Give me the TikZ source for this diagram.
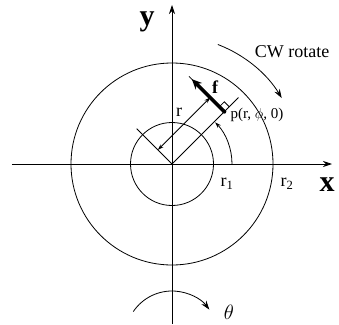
\documentclass[tikz,border=0pt]{standalone}
\usepackage{fontspec}
\setmainfont{Liberation Serif}
\usetikzlibrary{arrows.meta, calc}

\begin{document}
\begin{tikzpicture}[
    x=1pt, y=1pt,
    thinline/.style = {line width=0.8pt},
    axislabel/.style = {font=\fontsize{30}{30}\selectfont\bfseries},
    textlabel/.style = {font=\fontsize{18}{18}\selectfont},
    pointlabel/.style = {font=\fontsize{15}{15}\selectfont, anchor=west},
    >={Stealth[length=9pt, width=6pt]}]

    \useasboundingbox (-172,-160) rectangle (167,164);
    \coordinate (O) at (0,0);
    \coordinate (P) at (45:74);
    \coordinate (Xs) at (-160,0);
    \coordinate (Xe) at (160,0);
    \coordinate (Ys) at (0,-160);
    \coordinate (Ye) at (0,159);

    % axes and circles
    \draw[thinline, ->] (Xs) -- (Xe);
    \draw[thinline, ->] (Ys) -- (Ye);
    \draw[thinline] (O) circle (41.5);
    \draw[thinline] (O) circle (101);

    % radius, extension lines and dimension
    \coordinate (R) at (45:94);
    \coordinate (E1) at (135:50);
    \coordinate (E2) at ($(P)+(135:50)$);
    \coordinate (D1) at (135:20);
    \coordinate (D2) at ($(P)+(135:20)$);
    \coordinate (F) at ($(P)+(135:46)$);
    \draw[thinline] (O) -- (R);
    \draw[thinline] (O) -- (E1);
    \draw[thinline] (P) -- (E2);
    \draw[thinline, <->, >={Stealth[length=6pt, width=4pt]}] (D1) -- (D2);
    \draw[line width=3.5pt, ->, >={Stealth[length=10pt, width=9pt]}] (P) -- (F);
    \draw[thinline] ($(P)+(135:7)$) -- ++(45:7) -- ++(-45:7);
    \fill (P) circle (2);

    % angle arcs
    \draw[thinline, ->, >={Stealth[length=6pt, width=4pt]}] (0:60) arc[start angle=0, end angle=44, radius=60];
    \draw[thinline, ->] (69:128) arc[start angle=69, end angle=31, radius=128];
    \coordinate (C) at (0,-173.7);
    \draw[thinline, ->] ($(C)+(146:46.7)$) arc[start angle=146, end angle=37, radius=46.7];

    % labels
    \node[axislabel] (ylab) at (-25,142) {y};
    \node[axislabel] (xlab) at (155,-21) {x};
    \node[textlabel] (rlab) at (7,52) {r};
    \node[textlabel, font=\fontsize{18}{18}\selectfont\bfseries] (flab) at (43,77) {f};
    \node[pointlabel] (plab) at (55,49) {p(r, $\phi$, 0)};
    \node[textlabel] (r1lab) at (55,-20) {r\textsubscript{1}};
    \node[textlabel] (r2lab) at (115,-20) {r\textsubscript{2}};
    \node[textlabel] (cwlab) at (120,112) {CW rotate};
    \node[textlabel, font=\fontsize{22}{22}\selectfont, inner sep=0pt] (thlab) at (57,-148) {$\theta$};
\end{tikzpicture}
\end{document}
